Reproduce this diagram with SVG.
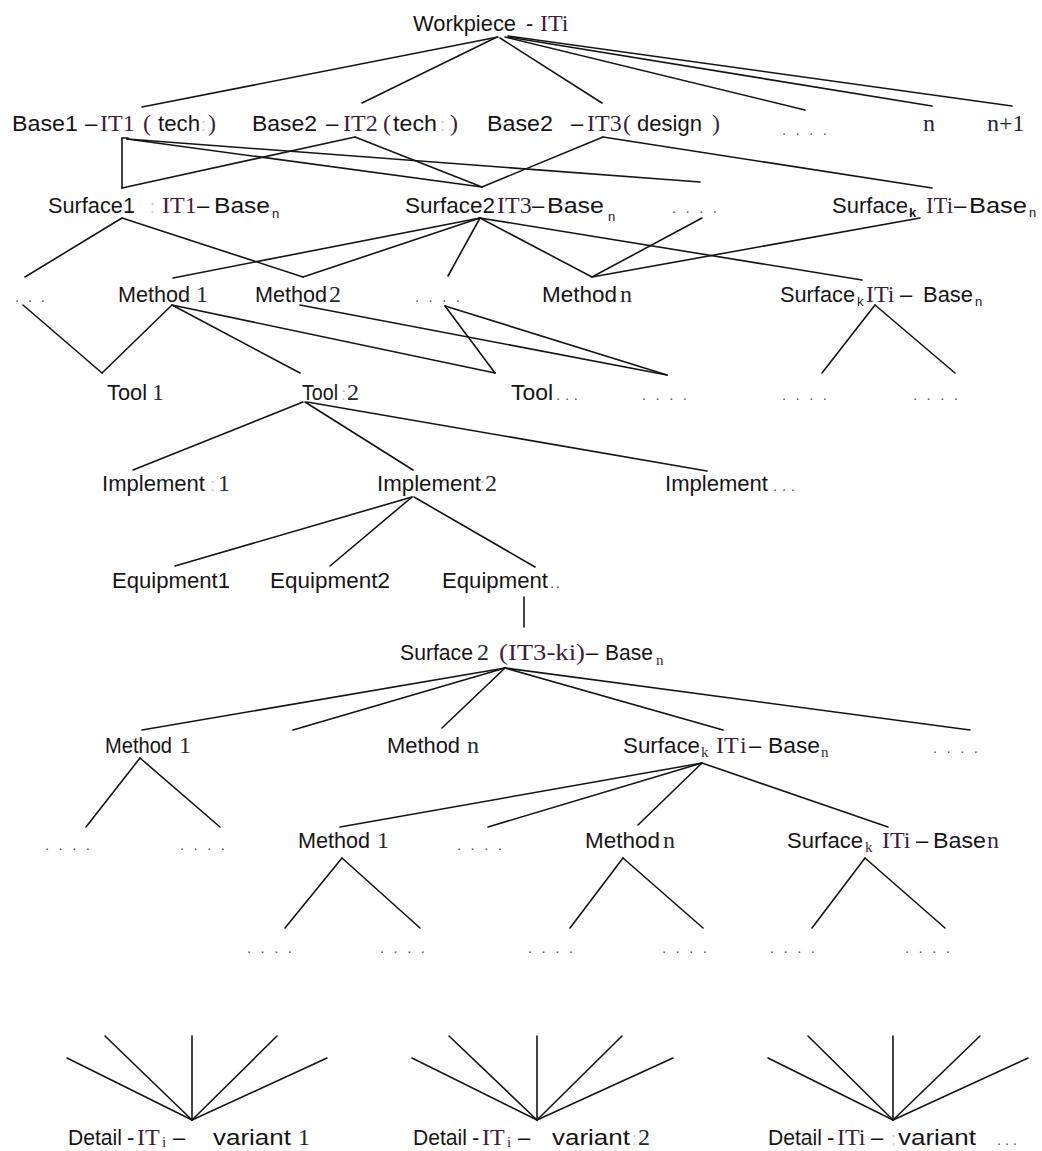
<svg xmlns="http://www.w3.org/2000/svg" width="1042" height="1151" viewBox="0 0 1042 1151">
  <style>
    .s { font-family: "Liberation Sans", Arial, sans-serif; font-size: 22px; fill: #151515; }
    .r { font-family: "Liberation Serif", "Times New Roman", serif; font-size: 24px; fill: #3b1f3d; }
    .d { font-family: "Liberation Serif", "Times New Roman", serif; font-size: 24px; fill: #1e2a2e; }
    .sub { font-family: "Liberation Sans", Arial, sans-serif; font-size: 13px; fill: #151515; }
    .subr { font-family: "Liberation Serif", "Times New Roman", serif; font-size: 15px; fill: #3b1f3d; }
    .faint { font-family: "Liberation Sans", Arial, sans-serif; font-size: 18px; fill: #c8c8c8; }
    .dots { font-family: "Liberation Sans", Arial, sans-serif; font-size: 15px; fill: #555; }
    #connectors line { stroke: #141414; stroke-width: 1.6; stroke-linecap: round; }
  </style>

  <!-- connectors -->
  <g id="connectors">
    <!-- workpiece to bases -->
    <line x1="498" y1="37" x2="142" y2="107"/>
    <line x1="497" y1="37" x2="362" y2="103"/>
    <line x1="500" y1="38" x2="602" y2="103"/>
    <line x1="505" y1="37" x2="805" y2="110"/>
    <line x1="508" y1="37" x2="932" y2="106"/>
    <line x1="508" y1="36" x2="1012" y2="106"/>
    <!-- bases to surfaces -->
    <line x1="122" y1="138" x2="122" y2="188"/>
    <line x1="122" y1="138" x2="128" y2="138"/>
    <line x1="122" y1="188" x2="355" y2="137"/>
    <line x1="127" y1="139" x2="482" y2="187"/>
    <line x1="127" y1="139" x2="700" y2="182"/>
    <line x1="355" y1="137" x2="482" y2="187"/>
    <line x1="603" y1="137" x2="482" y2="187"/>
    <line x1="603" y1="137" x2="932" y2="188"/>
    <!-- surfaces to methods -->
    <line x1="122" y1="218" x2="25" y2="277"/>
    <line x1="122" y1="218" x2="303" y2="277"/>
    <line x1="480" y1="218" x2="173" y2="278"/>
    <line x1="480" y1="218" x2="303" y2="277"/>
    <line x1="480" y1="218" x2="448" y2="276"/>
    <line x1="480" y1="218" x2="592" y2="277"/>
    <line x1="480" y1="218" x2="862" y2="280"/>
    <line x1="702" y1="218" x2="592" y2="277"/>
    <line x1="920" y1="218" x2="592" y2="277"/>
    <!-- methods to tools -->
    <line x1="23" y1="305" x2="102" y2="373"/>
    <line x1="172" y1="305" x2="102" y2="373"/>
    <line x1="172" y1="305" x2="300" y2="373"/>
    <line x1="172" y1="305" x2="495" y2="373"/>
    <line x1="300" y1="305" x2="667" y2="375"/>
    <line x1="445" y1="306" x2="495" y2="373"/>
    <line x1="445" y1="306" x2="667" y2="375"/>
    <line x1="875" y1="305" x2="822" y2="373"/>
    <line x1="875" y1="305" x2="955" y2="373"/>
    <!-- tool to implements -->
    <line x1="303" y1="402" x2="133" y2="470"/>
    <line x1="305" y1="402" x2="413" y2="470"/>
    <line x1="307" y1="402" x2="707" y2="471"/>
    <!-- implement to equipment -->
    <line x1="412" y1="497" x2="175" y2="566"/>
    <line x1="412" y1="497" x2="330" y2="566"/>
    <line x1="414" y1="497" x2="535" y2="567"/>
    <line x1="524" y1="597" x2="524" y2="627"/>
    <!-- second-level surface -->
    <line x1="505" y1="668" x2="142" y2="730"/>
    <line x1="505" y1="668" x2="293" y2="730"/>
    <line x1="505" y1="668" x2="442" y2="728"/>
    <line x1="505" y1="668" x2="723" y2="730"/>
    <line x1="505" y1="668" x2="970" y2="730"/>
    <line x1="140" y1="758" x2="86" y2="827"/>
    <line x1="140" y1="758" x2="220" y2="827"/>
    <line x1="702" y1="763" x2="340" y2="827"/>
    <line x1="702" y1="763" x2="488" y2="827"/>
    <line x1="702" y1="763" x2="638" y2="825"/>
    <line x1="702" y1="763" x2="888" y2="827"/>
    <line x1="342" y1="858" x2="285" y2="928"/>
    <line x1="342" y1="858" x2="420" y2="928"/>
    <line x1="623" y1="858" x2="570" y2="928"/>
    <line x1="623" y1="858" x2="703" y2="928"/>
    <line x1="865" y1="858" x2="812" y2="928"/>
    <line x1="865" y1="858" x2="945" y2="928"/>
    <!-- detail fans -->
    <line x1="192" y1="1120" x2="67" y2="1058"/>
    <line x1="192" y1="1120" x2="105" y2="1036"/>
    <line x1="192" y1="1120" x2="192" y2="1036"/>
    <line x1="192" y1="1120" x2="277" y2="1036"/>
    <line x1="192" y1="1120" x2="327" y2="1058"/>
    <line x1="537" y1="1120" x2="412" y2="1058"/>
    <line x1="537" y1="1120" x2="449" y2="1036"/>
    <line x1="537" y1="1120" x2="537" y2="1036"/>
    <line x1="537" y1="1120" x2="622" y2="1036"/>
    <line x1="537" y1="1120" x2="673" y2="1058"/>
    <line x1="893" y1="1120" x2="768" y2="1058"/>
    <line x1="893" y1="1120" x2="808" y2="1036"/>
    <line x1="893" y1="1120" x2="893" y2="1036"/>
    <line x1="893" y1="1120" x2="980" y2="1036"/>
    <line x1="893" y1="1120" x2="1028" y2="1058"/>
  </g>

  <!-- level 0 -->
  <g id="workpiece">
    <text class="s" x="413" y="31" textLength="103" lengthAdjust="spacingAndGlyphs">Workpiece</text>
    <text class="s" x="526" y="31">-</text>
    <text class="r" x="540" y="31">ITi</text>
  </g>

  <!-- level 1: bases -->
  <g id="base1">
    <text class="s" x="12" y="131" textLength="66" lengthAdjust="spacingAndGlyphs">Base1</text>
    <text class="s" x="85" y="131">–</text>
    <text class="r" x="100" y="131">IT1</text>
    <text class="r" x="143" y="131">(</text>
    <text class="s" x="158" y="131" textLength="42" lengthAdjust="spacingAndGlyphs">tech</text>
    <text class="faint" x="201" y="131">:</text>
    <text class="r" x="208" y="131">)</text>
  </g>
  <g id="base2">
    <text class="s" x="252" y="131" textLength="65" lengthAdjust="spacingAndGlyphs">Base2</text>
    <text class="s" x="326" y="131">–</text>
    <text class="r" x="343" y="131">IT2</text>
    <text class="r" x="383" y="131">(</text>
    <text class="s" x="393" y="131" textLength="44" lengthAdjust="spacingAndGlyphs">tech</text>
    <text class="faint" x="440" y="131">:</text>
    <text class="r" x="450" y="131">)</text>
  </g>
  <g id="base3">
    <text class="s" x="487" y="131" textLength="66" lengthAdjust="spacingAndGlyphs">Base2</text>
    <text class="s" x="571" y="131">–</text>
    <text class="r" x="587" y="131">IT3</text>
    <text class="r" x="623" y="131">(</text>
    <text class="s" x="637" y="131" textLength="65" lengthAdjust="spacingAndGlyphs">design</text>
    <text class="r" x="712" y="131">)</text>
  </g>
  <g id="base-more"><text class="dots" x="782" y="135" textLength="45">. . . .</text></g>
  <g id="base-n"><text class="d" x="923" y="131">n</text></g>
  <g id="base-n1"><text class="d" x="987" y="131">n+1</text></g>

  <!-- level 2: surfaces -->
  <g id="surface1">
    <text class="s" x="48" y="213" textLength="87" lengthAdjust="spacingAndGlyphs">Surface1</text>
    <text class="faint" x="150" y="213">:</text>
    <text class="r" x="162" y="213">IT1</text>
    <text class="s" x="197" y="213">–</text>
    <text class="s" x="214" y="213" textLength="56" lengthAdjust="spacingAndGlyphs">Base</text>
    <text class="sub" x="272" y="218">n</text>
  </g>
  <g id="surface2">
    <text class="s" x="405" y="213" textLength="90" lengthAdjust="spacingAndGlyphs">Surface2</text>
    <text class="r" x="497" y="213">IT3</text>
    <text class="s" x="532" y="213">–</text>
    <text class="s" x="547" y="213" textLength="57" lengthAdjust="spacingAndGlyphs">Base</text>
    <text class="sub" x="608" y="221">n</text>
  </g>
  <g id="surface-more"><text class="dots" x="672" y="213" textLength="45">. . . .</text></g>
  <g id="surface-k">
    <text class="s" x="832" y="213" textLength="76" lengthAdjust="spacingAndGlyphs">Surface</text>
    <text class="sub" x="909" y="217" font-weight="bold">k</text>
    <text class="r" x="926" y="213" textLength="27" lengthAdjust="spacingAndGlyphs">ITi</text>
    <text class="s" x="954" y="213">–</text>
    <text class="s" x="969" y="213" textLength="58" lengthAdjust="spacingAndGlyphs">Base</text>
    <text class="sub" x="1029" y="217">n</text>
  </g>

  <!-- level 3: methods -->
  <g id="method-left-more"><text class="dots" x="15" y="302" textLength="30">. . .</text></g>
  <g id="method1">
    <text class="s" x="118" y="302" textLength="72" lengthAdjust="spacingAndGlyphs">Method</text>
    <text class="d" x="196" y="302">1</text>
  </g>
  <g id="method2">
    <text class="s" x="255" y="302" textLength="72" lengthAdjust="spacingAndGlyphs">Method</text>
    <text class="d" x="329" y="302">2</text>
  </g>
  <g id="method-more"><text class="dots" x="415" y="302" textLength="45">. . . .</text></g>
  <g id="method-n">
    <text class="s" x="542" y="302" textLength="75" lengthAdjust="spacingAndGlyphs">Method</text>
    <text class="d" x="620" y="302">n</text>
  </g>
  <g id="surface-k-2">
    <text class="s" x="780" y="302" textLength="75" lengthAdjust="spacingAndGlyphs">Surface</text>
    <text class="sub" x="857" y="306" fill="#888">k</text>
    <text class="r" x="866" y="302">ITi</text>
    <text class="s" x="900" y="302">–</text>
    <text class="s" x="923" y="302" textLength="50" lengthAdjust="spacingAndGlyphs">Base</text>
    <text class="sub" x="975" y="306">n</text>
  </g>

  <!-- level 4: tools -->
  <g id="tool1">
    <text class="s" x="107" y="400" textLength="40" lengthAdjust="spacingAndGlyphs">Tool</text>
    <text class="d" x="152" y="400">1</text>
  </g>
  <g id="tool2">
    <text class="s" x="302" y="400" textLength="36" lengthAdjust="spacingAndGlyphs">Tool</text>
    <text class="faint" x="341" y="400" font-size="14">:</text>
    <text class="d" x="347" y="400">2</text>
  </g>
  <g id="tool-more">
    <text class="s" x="511" y="400" textLength="42" lengthAdjust="spacingAndGlyphs">Tool</text>
    <text class="dots" x="556" y="400" textLength="22">...</text>
  </g>
  <g id="tool-dots1"><text class="dots" x="642" y="400" textLength="45">. . . .</text></g>
  <g id="tool-dots2"><text class="dots" x="782" y="400" textLength="45">. . . .</text></g>
  <g id="tool-dots3"><text class="dots" x="913" y="400" textLength="45">. . . .</text></g>

  <!-- level 5: implements -->
  <g id="implement1">
    <text class="s" x="102" y="491" textLength="103" lengthAdjust="spacingAndGlyphs">Implement</text>
    <text class="faint" x="210" y="491">:</text>
    <text class="d" x="218" y="491">1</text>
  </g>
  <g id="implement2">
    <text class="s" x="377" y="491" textLength="104" lengthAdjust="spacingAndGlyphs">Implement</text>
    <text class="faint" x="480" y="491">:</text>
    <text class="d" x="485" y="491">2</text>
  </g>
  <g id="implement-more">
    <text class="s" x="665" y="491" textLength="103" lengthAdjust="spacingAndGlyphs">Implement</text>
    <text class="dots" x="773" y="491" textLength="22">...</text>
  </g>

  <!-- level 6: equipment -->
  <g id="equipment1"><text class="s" x="112" y="588" textLength="118" lengthAdjust="spacingAndGlyphs">Equipment1</text></g>
  <g id="equipment2"><text class="s" x="270" y="588" textLength="120" lengthAdjust="spacingAndGlyphs">Equipment2</text></g>
  <g id="equipment-more">
    <text class="s" x="442" y="588" textLength="106" lengthAdjust="spacingAndGlyphs">Equipment</text>
    <text class="dots" x="550" y="588" textLength="10">..</text>
  </g>

  <!-- level 7: surface branch -->
  <g id="surface2-ki">
    <text class="s" x="400" y="660" textLength="73" lengthAdjust="spacingAndGlyphs">Surface</text>
    <text class="d" x="477" y="660">2</text>
    <text class="r" x="499" y="660" fill="#1e1e1e" textLength="86" lengthAdjust="spacingAndGlyphs">(IT3-ki)</text>
    <text class="s" x="586" y="660">–</text>
    <text class="s" x="605" y="660" textLength="48" lengthAdjust="spacingAndGlyphs">Base</text>
    <text class="subr" x="656" y="665" fill="#3a4a2a">n</text>
  </g>

  <!-- level 8 -->
  <g id="method1-b">
    <text class="s" x="105" y="753" textLength="67" lengthAdjust="spacingAndGlyphs">Method</text>
    <text class="d" x="179" y="753" fill="#2e5a66">1</text>
  </g>
  <g id="method-n-b">
    <text class="s" x="387" y="753" textLength="73" lengthAdjust="spacingAndGlyphs">Method</text>
    <text class="d" x="467" y="753">n</text>
  </g>
  <g id="surface-k-b">
    <text class="s" x="623" y="753" textLength="77" lengthAdjust="spacingAndGlyphs">Surface</text>
    <text class="subr" x="701" y="757" fill="#5a6a40">k</text>
    <text class="r" x="716" y="753">IT</text>
    <text class="r" x="740" y="753" fill="#5a1f4a">i</text>
    <text class="s" x="749" y="753">–</text>
    <text class="s" x="768" y="753" textLength="52" lengthAdjust="spacingAndGlyphs">Base</text>
    <text class="subr" x="821" y="757" fill="#3a4a2a">n</text>
  </g>
  <g id="surface-more-b"><text class="dots" x="933" y="753" textLength="45">. . . .</text></g>

  <!-- level 9 -->
  <g id="dots-9a"><text class="dots" x="45" y="850" textLength="45">. . . .</text></g>
  <g id="dots-9b"><text class="dots" x="180" y="850" textLength="45">. . . .</text></g>
  <g id="method1-c">
    <text class="s" x="298" y="848" textLength="72" lengthAdjust="spacingAndGlyphs">Method</text>
    <text class="d" x="377" y="848">1</text>
  </g>
  <g id="dots-9c"><text class="dots" x="457" y="850" textLength="45">. . . .</text></g>
  <g id="method-n-c">
    <text class="s" x="585" y="848" textLength="75" lengthAdjust="spacingAndGlyphs">Method</text>
    <text class="d" x="663" y="848" fill="#3b1f3d">n</text>
  </g>
  <g id="surface-k-c">
    <text class="s" x="787" y="848" textLength="76" lengthAdjust="spacingAndGlyphs">Surface</text>
    <text class="subr" x="865" y="852" fill="#888">k</text>
    <text class="r" x="882" y="848">ITi</text>
    <text class="s" x="916" y="848">–</text>
    <text class="s" x="933" y="848" textLength="53" lengthAdjust="spacingAndGlyphs">Base</text>
    <text class="r" x="987" y="848">n</text>
  </g>

  <!-- level 10 -->
  <g id="dots-10a"><text class="dots" x="247" y="953" textLength="45">. . . .</text></g>
  <g id="dots-10b"><text class="dots" x="380" y="953" textLength="45">. . . .</text></g>
  <g id="dots-10c"><text class="dots" x="528" y="953" textLength="45">. . . .</text></g>
  <g id="dots-10d"><text class="dots" x="662" y="953" textLength="45">. . . .</text></g>
  <g id="dots-10e"><text class="dots" x="770" y="953" textLength="45">. . . .</text></g>
  <g id="dots-10f"><text class="dots" x="905" y="953" textLength="45">. . . .</text></g>

  <!-- level 11: detail variants -->
  <g id="detail1">
    <text class="s" x="68" y="1145" textLength="54" lengthAdjust="spacingAndGlyphs">Detail</text>
    <text class="s" x="127" y="1145">-</text>
    <text class="r" x="137" y="1145">IT</text>
    <text class="subr" x="162" y="1147">i</text>
    <text class="s" x="173" y="1145">–</text>
    <text class="s" x="213" y="1145" textLength="78" lengthAdjust="spacingAndGlyphs">variant</text>
    <text class="d" x="298" y="1145">1</text>
  </g>
  <g id="detail2">
    <text class="s" x="413" y="1145" textLength="54" lengthAdjust="spacingAndGlyphs">Detail</text>
    <text class="s" x="472" y="1145">-</text>
    <text class="r" x="482" y="1145">IT</text>
    <text class="subr" x="507" y="1147">i</text>
    <text class="s" x="518" y="1145">–</text>
    <text class="s" x="552" y="1145" textLength="78" lengthAdjust="spacingAndGlyphs">variant</text>
    <text class="faint" x="632" y="1145" font-size="14">:</text>
    <text class="d" x="638" y="1145">2</text>
  </g>
  <g id="detail3">
    <text class="s" x="768" y="1145" textLength="54" lengthAdjust="spacingAndGlyphs">Detail</text>
    <text class="s" x="827" y="1145">-</text>
    <text class="r" x="837" y="1145">ITi</text>
    <text class="s" x="871" y="1145">–</text>
    <text class="faint" x="891" y="1145" font-size="14">:</text>
    <text class="s" x="898" y="1145" textLength="78" lengthAdjust="spacingAndGlyphs">variant</text>
    <text class="dots" x="997" y="1145" textLength="20">...</text>
  </g>
</svg>
